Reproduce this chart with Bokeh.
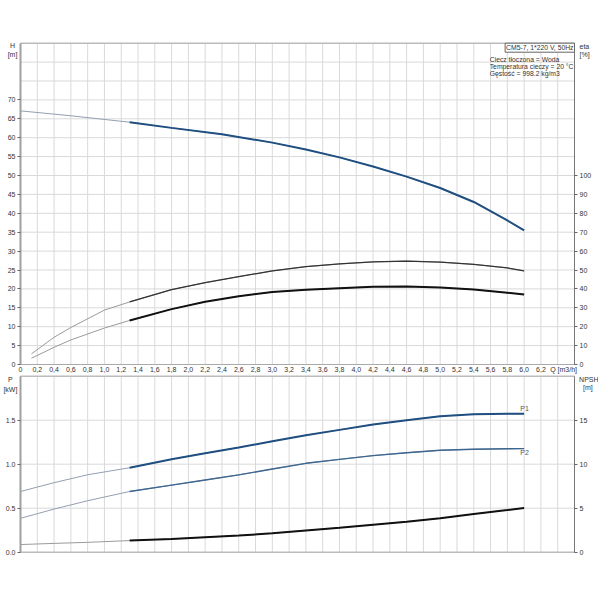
from bokeh.plotting import figure
from bokeh.models import LinearAxis, Range1d, FixedTicker, Label
from bokeh.embed import file_html
from bokeh.resources import INLINE

# ---------------- data ----------------
q_h = [0, 0.6, 1.3, 1.8, 2.4, 3.0, 3.4, 3.8, 4.2, 4.6, 5.0, 5.4, 5.8, 6.0]
head = [67.1, 65.8, 64.1, 62.6, 60.9, 58.7, 56.9, 54.8, 52.4, 49.7, 46.7, 43.0, 38.1, 35.5]

q_eta = [0.13, 0.4, 0.6, 1.0, 1.3, 1.8, 2.2, 2.6, 3.0, 3.4, 3.8, 4.2, 4.6, 5.0, 5.4, 5.8, 6.0]
eta_upper = [5.6, 14.4, 19.6, 28.8, 33.1, 39.6, 43.3, 46.5, 49.5, 51.8, 53.2, 54.3, 54.7, 54.2, 53.0, 51.1, 49.5]
eta_lower = [3.3, 9.1, 13.0, 19.3, 23.3, 29.3, 33.2, 36.1, 38.4, 39.5, 40.4, 41.2, 41.3, 40.7, 39.7, 38.0, 37.0]

q_p = [0, 0.4, 0.8, 1.3, 1.8, 2.2, 2.6, 3.0, 3.4, 3.8, 4.2, 4.6, 5.0, 5.4, 5.8, 6.0]
p1 = [0.69, 0.79, 0.88, 0.96, 1.057, 1.125, 1.19, 1.26, 1.33, 1.39, 1.45, 1.50, 1.546, 1.569, 1.573, 1.573]
p2 = [0.385, 0.49, 0.585, 0.69, 0.762, 0.82, 0.879, 0.945, 1.01, 1.055, 1.098, 1.13, 1.158, 1.17, 1.176, 1.177]
npsh = [0.87, 1.0, 1.12, 1.32, 1.51, 1.7, 1.89, 2.15, 2.47, 2.78, 3.12, 3.47, 3.85, 4.34, 4.79, 5.02]

q_ticks = [round(0.2 * i, 1) for i in range(32)]          # 0 .. 6.2
q_grid = [round(0.2 * i, 1) for i in range(34)]           # 0 .. 6.6
h_ticks = list(range(0, 75, 5))
h_grid = list(range(0, 90, 5))
eta_ticks = list(range(0, 110, 10))
p_ticks = [0.0, 0.5, 1.0, 1.5]
p_grid = [0.0, 0.5, 1.0, 1.5, 2.0]
npsh_ticks = [0, 5, 10, 15]

info_title = "CM5-7, 1*220 V, 50Hz"
info_lines = ["Ciecz tłoczona = Woda", "Temperatura cieczy = 20 °C", "Gęstość = 998.2 kg/m3"]
split_q = 1.3

# ---------------- geometry (page pixels -> data ranges) ----------------
Q_MAX, H_MAX, ETA_MAX, P_MAX, N_MAX = 6.6, 85, 170, 2.0, 20
W, H = 598, 596                       # canvas starts at page px 0,0
FX0, FX1 = 20, 574                    # panel left / right
TY0, TY1 = 42.7, 364                  # top panel top / bottom
BY0, BY1 = 375.7, 551.7               # bottom panel top / bottom
sx = (FX1 - FX0) / Q_MAX
x_lo, x_hi = (0 - FX0) / sx, (W - FX0) / sx
sh = (TY1 - TY0) / H_MAX
h_lo, h_hi = (TY1 - H) / sh, TY1 / sh
sp = (BY1 - BY0) / P_MAX
p_lo, p_hi = (BY1 - H) / sp, BY1 / sp

FONT = "Liberation Sans"
FS = "7px"
TXT = "#333333"
GRID = "#d9d9d9"
BLUE = "#1f4f80"
THIN = "#939fb0"

p = figure(width=W, height=H, x_range=Range1d(x_lo, x_hi), y_range=Range1d(h_lo, h_hi),
           output_backend="svg", toolbar_location=None, x_axis_location=None, y_axis_location=None,
           min_border=0)
p.extra_y_ranges = {"eta": Range1d(h_lo * ETA_MAX / H_MAX, h_hi * ETA_MAX / H_MAX),
                    "p": Range1d(p_lo, p_hi),
                    "npsh": Range1d(p_lo * N_MAX / P_MAX, p_hi * N_MAX / P_MAX)}
p.outline_line_color = None
p.xgrid.visible = False
p.ygrid.visible = False


def style_axis(ax, ticks, line_color, line_width, tick_out=3, standoff=2):
    ax.ticker = FixedTicker(ticks=ticks)
    ax.major_label_text_font = FONT
    ax.major_label_text_font_size = FS
    ax.major_label_text_color = TXT
    ax.axis_line_color = line_color
    ax.axis_line_width = line_width
    ax.major_tick_line_color = "#666666"
    ax.major_tick_out = tick_out
    ax.major_tick_in = 0
    ax.minor_tick_line_color = None
    ax.major_label_standoff = standoff


def thick_part(xs, ys):
    pairs = [(x, y) for x, y in zip(xs, ys) if x >= split_q]
    return [a for a, _ in pairs], [b for _, b in pairs]


def txt(x, y, s, align="left", baseline="middle", size=FS, color=TXT, rng="default", **kw):
    p.add_layout(Label(x=x, y=y, text=s, text_font=FONT, text_font_size=size, text_color=color,
                       text_align=align, text_baseline=baseline, y_range_name=rng, **kw))


# ---------------- grids ----------------
p.segment(x0=q_grid, y0=[0] * len(q_grid), x1=q_grid, y1=[H_MAX] * len(q_grid), line_color=GRID, line_width=1)
p.segment(x0=[0] * len(h_grid), y0=h_grid, x1=[Q_MAX] * len(h_grid), y1=h_grid, line_color=GRID, line_width=1)
p.segment(x0=q_grid, y0=[0] * len(q_grid), x1=q_grid, y1=[P_MAX] * len(q_grid), line_color=GRID,
          line_width=1, y_range_name="p")
p.segment(x0=[0] * len(p_grid), y0=p_grid, x1=[Q_MAX] * len(p_grid), y1=p_grid, line_color=GRID,
          line_width=1, y_range_name="p")
p.quad(left=[0], right=[Q_MAX], bottom=[0], top=[H_MAX], fill_color=None, line_color="#aaaaaa", line_width=1)
p.quad(left=[0], right=[Q_MAX], bottom=[0], top=[P_MAX], fill_color=None, line_color="#aaaaaa",
       line_width=1, y_range_name="p")

# ---------------- axes ----------------
ax = LinearAxis(fixed_location=0, bounds=(0, H_MAX))
style_axis(ax, h_ticks, "#a0a0a0", 2)
p.add_layout(ax, "left")
ax = LinearAxis(fixed_location=Q_MAX, bounds=(0, ETA_MAX), y_range_name="eta")
style_axis(ax, eta_ticks, "#777777", 1)
p.add_layout(ax, "right")
ax = LinearAxis(fixed_location=0, bounds=(0, Q_MAX))
style_axis(ax, q_ticks, "#aaaaaa", 1, tick_out=0, standoff=2)
ax.major_label_overrides = {t: ("0" if t == 0 else ("%.1f" % t).replace(".", ",")) for t in q_ticks}
p.add_layout(ax, "below")
ax = LinearAxis(fixed_location=0, bounds=(0, P_MAX), y_range_name="p")
style_axis(ax, p_ticks, "#a0a0a0", 2)
ax.major_label_overrides = {0.0: "0.0", 0.5: "0.5", 1.0: "1.0", 1.5: "1.5"}
p.add_layout(ax, "left")
ax = LinearAxis(fixed_location=Q_MAX, bounds=(0, N_MAX), y_range_name="npsh")
style_axis(ax, npsh_ticks, "#777777", 1)
p.add_layout(ax, "right")

# ---------------- curves ----------------
p.line(q_h, head, line_color=THIN, line_width=1)
xs, ys = thick_part(q_h, head)
p.line(xs, ys, line_color=BLUE, line_width=2)

p.line(q_eta, eta_upper, y_range_name="eta", line_color="#9a9a9a", line_width=1)
xs, ys = thick_part(q_eta, eta_upper)
p.line(xs, ys, y_range_name="eta", line_color="#333333", line_width=1.2)
p.line(q_eta, eta_lower, y_range_name="eta", line_color="#9a9a9a", line_width=1)
xs, ys = thick_part(q_eta, eta_lower)
p.line(xs, ys, y_range_name="eta", line_color="#111111", line_width=2)

p.line(q_p, p1, y_range_name="p", line_color=THIN, line_width=1)
xs, ys = thick_part(q_p, p1)
p.line(xs, ys, y_range_name="p", line_color=BLUE, line_width=2)
p.line(q_p, p2, y_range_name="p", line_color=THIN, line_width=1)
xs, ys = thick_part(q_p, p2)
p.line(xs, ys, y_range_name="p", line_color="#3d6690", line_width=1.4)
p.line(q_p, npsh, y_range_name="npsh", line_color="#9a9a9a", line_width=1)
xs, ys = thick_part(q_p, npsh)
p.line(xs, ys, y_range_name="npsh", line_color="#111111", line_width=2)

# ---------------- texts ----------------
txt(-0.095, 84.3, "H", align="center")
txt(-0.095, 82.0, "[m]", align="center")
txt(6.66, 84.1, "eta")
txt(6.66, 82.0, "[%]")
txt(6.31, -1.35, "Q [m3/h]")
txt(-0.12, 1.96, "P", align="center", rng="p")
txt(-0.12, 1.852, "[kW]", align="center", rng="p")
txt(6.655, 1.965, "NPSH", rng="p")
txt(6.76, 1.87, "[m]", align="center", rng="p")
txt(6.005, 1.63, "P1", align="center", color="#555555", rng="p")
txt(6.005, 1.13, "P2", align="center", color="#555555", rng="p")
txt(Q_MAX, H_MAX, info_title, align="right", baseline="top", size="6.8px",
    border_line_color="#666666", background_fill_color="white", padding=1)
for i, s in enumerate(info_lines):
    txt(5.59, 80.6 - 1.78 * i, s, size="6.8px")

open("out.html", "w").write(file_html(p, INLINE))
